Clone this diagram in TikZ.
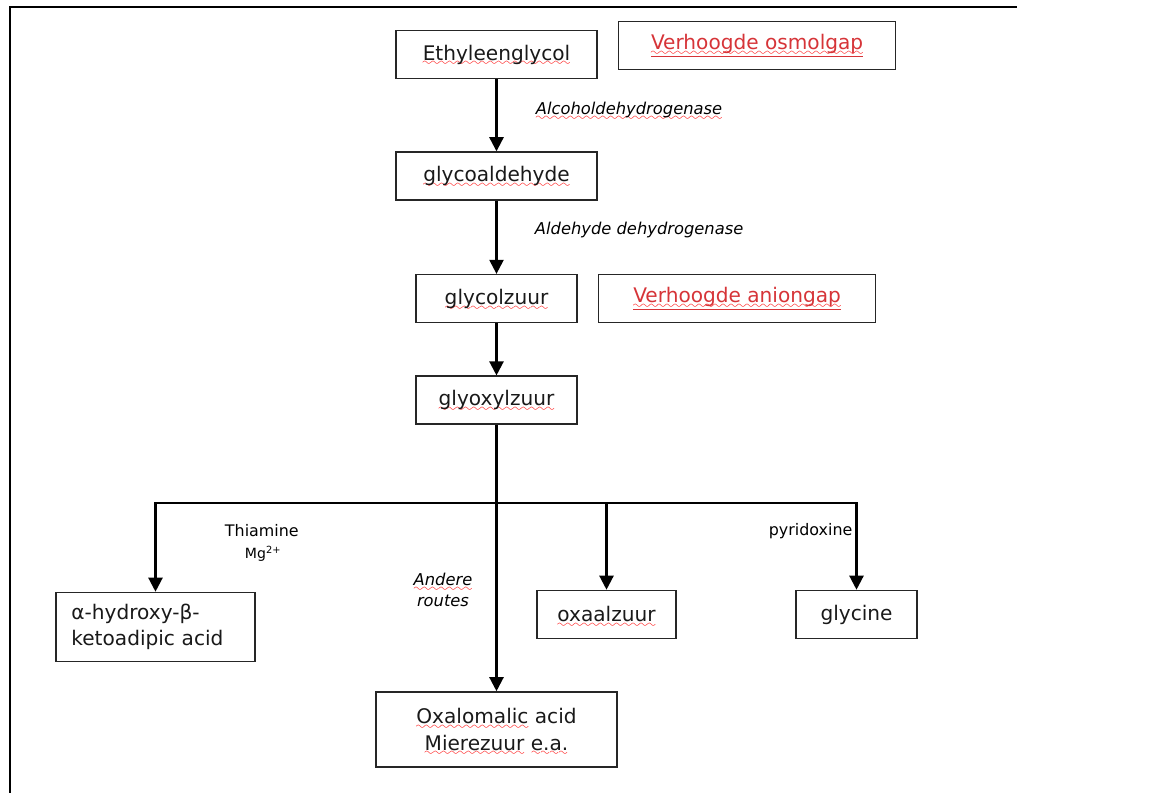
\documentclass[tikz,border=0pt]{standalone}
\usepackage{fontspec}
\setmainfont{DejaVu Sans}
\usetikzlibrary{positioning,arrows.meta}
\definecolor{linkred}{RGB}{214,52,56}
\font\wavefont=lasy8
% red wavy spelling mark under a word
\newcommand\spellerr[1]{\setbox0\hbox{#1}\leavevmode\rlap{\raisebox{-4.2pt}[0pt][0pt]{\hbox to \wd0{\color{red}\xleaders\hbox{\wavefont\char58}\hfill}}}\box0\relax}

\begin{document}
\begin{tikzpicture}[
  x=0.025cm, y=-0.025cm,
  node distance=1.8cm and 0.5cm,
  stage/.style={draw=black!85,line width=1.1pt,minimum height=1.2cm,inner sep=2pt,
    align=center,text=black!90,font=\fontsize{14.3}{18.5}\selectfont},
  gapbox/.style={stage,minimum width=6.925cm,text=linkred},
  enzyme/.style={anchor=west,font=\fontsize{11.6}{14}\selectfont\itshape},
  cofactor/.style={font=\fontsize{11.3}{14}\selectfont},
  arr/.style={-{Triangle[width=10pt,length=10pt]},line width=1.6pt}
]
\useasboundingbox (0,0) rectangle (1159,793);
\draw[line width=1.6pt] (9,7) -- (1017,7);
\draw[line width=2pt] (10,7) -- (10,793);

\node[stage,minimum width=5.025cm] (ethyl) at (496.5,54.5) {\spellerr{Ethyleenglycol}};
\node[stage,minimum width=5.025cm,below=1.8cm of ethyl] (glycald) {\spellerr{glycoaldehyde}};
\node[stage,minimum width=4.025cm,below=1.825cm of glycald] (glycolz) {\spellerr{glycolzuur}};
\node[stage,minimum width=4.025cm,below=1.3cm of glycolz] (glyox) {\spellerr{glyoxylzuur}};
\node[gapbox,right=0.5cm of ethyl,yshift=0.225cm] (osmol) {\spellerr{\underline{Verhoogde osmolgap}}};
\node[gapbox,right=0.5cm of glycolz] (anion) {\spellerr{\underline{Verhoogde aniongap}}};

\node[stage,inner xsep=11pt,text width=4.975cm-22pt,minimum height=1.725cm,align=left] (alpha) at (155.5,627) {α-hydroxy-β-\\ketoadipic acid};
\node[stage,minimum width=3.475cm] (oxaal) at (606.5,614.5) {\spellerr{oxaalzuur}};
\node[stage,minimum width=3.025cm] (glycine) at (856.5,614.5) {glycine};
\node[stage,minimum width=6.025cm,minimum height=1.875cm] (oxalo) at (496.5,729.5) {\spellerr{Oxalomalic} acid\\\spellerr{Mierezuur} \spellerr{e.a.}};

\node[enzyme] (adh) at (531,110) {\spellerr{Alcoholdehydrogenase}};
\node[enzyme] (aldh) at (530,230) {Aldehyde dehydrogenase};
\node[cofactor,anchor=west] (thia) at (220,531) {Thiamine};
\node[cofactor,anchor=west,font=\fontsize{10}{12}\selectfont] (mg) at (240,554) {Mg\textsuperscript{2+}};
\node[cofactor,anchor=east,inner sep=1pt] (pyr) at (854,531) {pyridoxine};
\node[enzyme,anchor=center,align=center,font=\fontsize{11.6}{15}\selectfont\itshape] (andere) at (443,590) {\spellerr{Andere}\\routes};

\coordinate (split) at (glyox.south |- 0,503);
\path (ethyl) edge[arr] (glycald)
(glycald) edge[arr] (glycolz)
(glycolz) edge[arr] (glyox);
\draw[line width=1.6pt] (glyox) -- (split);
\draw[arr] (split) -| (alpha);
\draw[arr] (split) -| (oxaal);
\draw[arr] (split) -| (glycine);
\draw[arr] (split) -- (oxalo);
\end{tikzpicture}
\end{document}
